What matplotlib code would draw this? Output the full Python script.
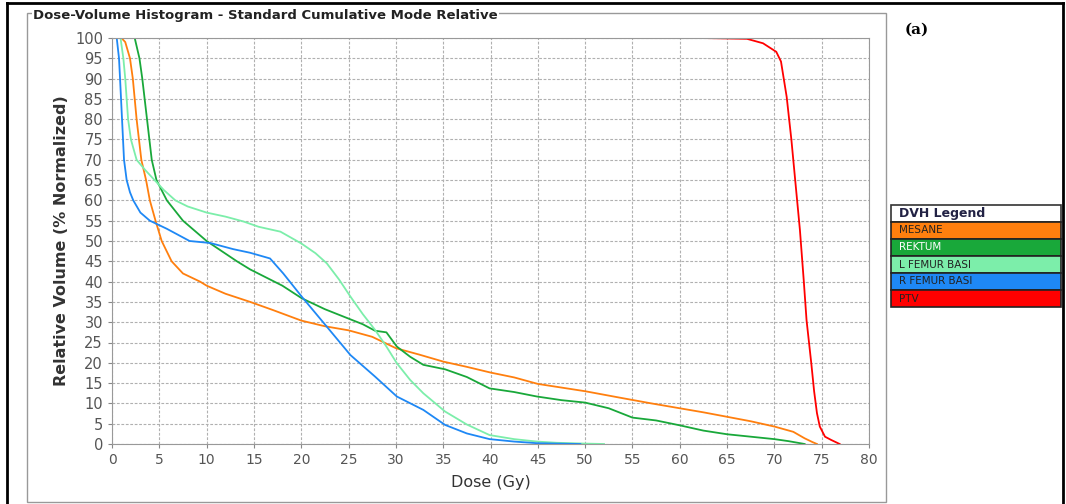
import matplotlib
matplotlib.use("Agg")
import matplotlib.pyplot as plt
from matplotlib.patches import Rectangle
from matplotlib.lines import Line2D

# DVH curves (dose in Gy, volume in %)
mesane_x = [1.0, 1.4, 1.9, 2.2, 2.6, 3.1, 3.6, 4.0, 4.6, 5.25, 6.3, 7.5, 9.3, 10, 12, 14.6, 17, 20,
            22.5, 25, 27.5, 30, 32.5, 35, 37.5, 40, 42.5, 45, 50, 53.7, 57, 60, 62.5, 65, 67.5,
            70, 72, 73.2, 74.0, 74.5]
mesane_y = [100, 99, 95, 90, 80, 70, 65, 60, 55, 50, 45, 42, 40, 39, 37, 35, 33, 30.4,
            29, 28, 26.4, 23.6, 22, 20.3, 19, 17.6, 16.4, 14.8, 13, 11.4, 10, 8.8, 7.8, 6.7, 5.6,
            4.3, 3, 1.4, 0.5, 0]

rektum_x = [2.4, 2.9, 3.2, 3.7, 4.2, 4.7, 5.8, 7.5, 10, 13.2, 14.6, 16.3, 18, 20.05, 22.5, 25.2,
            26.5, 27.8, 29, 30.1, 31.5, 32.9, 35.2, 37.5, 39.9, 42.5, 44.9, 47.5, 50, 52.5, 55,
            57.5, 60, 62.5, 65, 67.5, 70, 71.5, 73.2]
rektum_y = [100, 95, 90, 80, 70, 65, 60, 55, 50, 45, 43, 41, 39, 35.9, 33.2, 30.7,
            29.5, 27.9, 27.5, 24, 21.5, 19.5, 18.4, 16.5, 13.7, 12.8, 11.7, 10.8, 10.2, 8.8, 6.5,
            5.8, 4.6, 3.3, 2.4, 1.8, 1.2, 0.7, 0]

lfemur_x = [0.9, 1.2, 1.4, 1.7, 2.0, 2.6, 3.5, 4.5, 5.5, 6.7, 8.0, 10, 12, 13.9, 15.5, 17.8, 20.0,
            21.5, 22.7, 24, 25.2, 26.5, 27.8, 29, 30.1, 31.5, 32.9, 35.2, 37.5, 39.9, 42.5, 44.9,
            47, 50, 52]
lfemur_y = [100, 95, 90, 80, 75, 70, 67.5, 65, 62.5, 60, 58.5, 57, 56, 54.8, 53.5, 52.3, 49.4,
            47, 44.5, 40.5, 36.3, 32, 28.1, 24, 19.9, 15.8, 12.5, 8.0, 4.8, 2.2, 1.2, 0.6,
            0.3, 0.1, 0]

rfemur_x = [0.5, 0.74, 0.85, 1.06, 1.27, 1.55, 1.9, 2.25, 3.0, 4.0, 5.8, 8.2, 10.4, 12.8, 14.6,
            16.7, 18.1, 20.05, 22.7, 25.2, 27.8, 30.1, 32.9, 35.2, 37.5, 39.9, 42.5, 44.9, 47, 49.5]
rfemur_y = [100, 95, 90, 80, 70, 65, 62, 60, 57, 55, 53, 50, 49.5, 48, 47.1,
            45.7, 42, 36.3, 28.9, 21.9, 16.6, 11.7, 8.4, 4.7, 2.6, 1.2, 0.6, 0.2, 0.1, 0]

ptv_x = [62.1, 67.1, 68.8, 70.2, 70.7, 71.3, 71.8, 72.2, 72.7, 73.1, 73.4, 73.9, 74.2, 74.5,
         74.8, 75.35, 76.0, 76.9]
ptv_y = [100, 99.8, 98.7, 96.6, 94.2, 85.5, 74.9, 65, 52.7, 40.4, 30.5, 19.9, 13, 7.6,
         4.3, 1.8, 1.0, 0]

names = ["MESANE", "REKTUM", "L FEMUR BASI", "R FEMUR BASI", "PTV"]
colors = ["#ff7f0e", "#19a83a", "#7ceeaa", "#1e88f5", "#ff0000"]
text_colors = ["#222222", "white", "#222222", "#222222", "#222222"]
curves = [(mesane_x, mesane_y), (rektum_x, rektum_y), (lfemur_x, lfemur_y),
          (rfemur_x, rfemur_y), (ptv_x, ptv_y)]

fig = plt.figure(figsize=(10.66, 5.04), dpi=100)
ax = fig.add_axes([112/1066, 1-444/504, (869-112)/1066, (444-38)/504])

for (x, y), c in zip(curves, colors):
    ax.plot(x, y, color=c, lw=1.3)

ax.set_xlim(0, 80)
ax.set_ylim(0, 100)
ax.set_xticks(range(0, 81, 5))
ax.set_yticks(range(0, 101, 5))
ax.grid(True, color="#b0b0b0", linestyle=(0, (2.5, 1.5)), lw=0.8)
for s in ax.spines.values():
    s.set_color("#999999")
ax.tick_params(colors="#888888", labelcolor="#555555", length=3)
for lab in ax.get_xticklabels():
    lab.set_fontsize(10)
for lab in ax.get_yticklabels():
    lab.set_fontsize(10.5)
ax.set_xlabel("Dose (Gy)", fontsize=11.5, color="#333333", labelpad=6)
ax.set_ylabel("Relative Volume (% Normalized)", fontsize=11.5, fontweight="bold",
              color="#333333", labelpad=4)

# outer frame (left, top, right) and titled border
W, H = 1066, 504
for (x0, y0, x1, y1) in [(7, 504, 7, 3), (7, 3, 1063, 3), (1063, 3, 1063, 504)]:
    fig.add_artist(Line2D([x0/W, x1/W], [1-y0/H, 1-y1/H], color="black", lw=2,
                          transform=fig.transFigure))
fig.patches.append(Rectangle((27/W, 1-502/H), (886-27)/W, (502-13)/H,
                             transform=fig.transFigure, fill=False, ec="#999999", lw=1))
fig.text(33/W, 1-15/H, "Dose-Volume Histogram - Standard Cumulative Mode Relative",
         fontsize=9.5, fontweight="bold", color="#222222", va="center", ha="left",
         bbox=dict(fc="white", ec="none", pad=1))

fig.text(905/W, 1-30/H, "(a)", fontsize=11, fontweight="bold", family="DejaVu Serif",
         va="center", ha="left")

# DVH legend
lx, lw_, top, rh = 891/W, (1061-891)/W, 1-205/H, 17/H
fig.patches.append(Rectangle((lx, top-rh), lw_, rh, transform=fig.transFigure,
                             fc="white", ec="#333333", lw=1.2))
fig.text(lx+8/W, top-rh/2, "DVH Legend", fontsize=9, fontweight="bold",
         color="#222244", va="center")
for i, (n, c, tc) in enumerate(zip(names, colors, text_colors)):
    y0 = top-(i+2)*rh
    fig.patches.append(Rectangle((lx, y0), lw_, rh, transform=fig.transFigure,
                                 fc=c, ec="#222222", lw=1.2))
    fig.text(lx+8/W, y0+rh/2, n, fontsize=7.5, color=tc, va="center")

fig.savefig("out.png", dpi=100)
